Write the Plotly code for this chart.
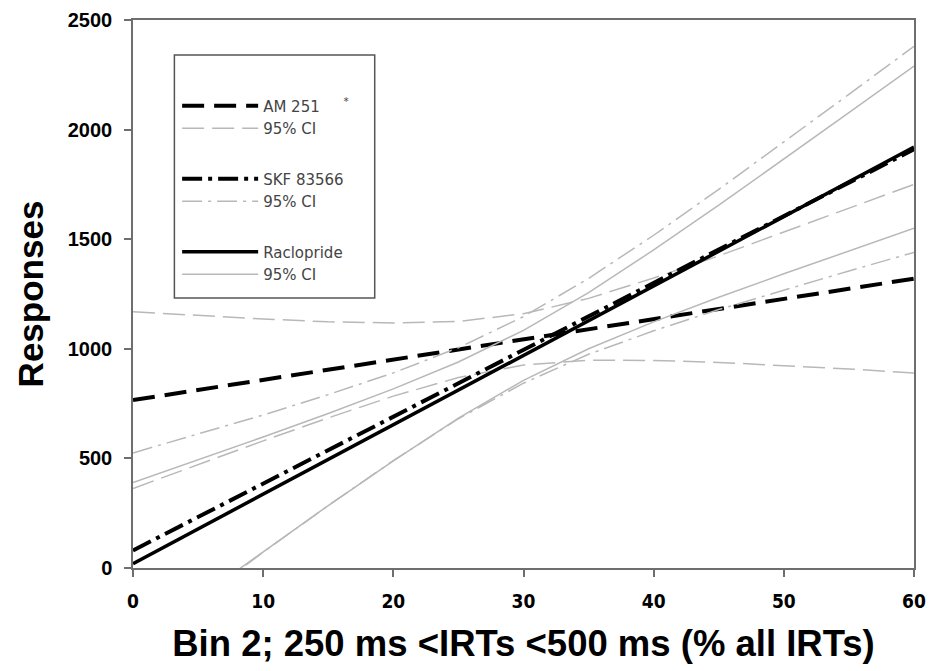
import plotly.graph_objects as go

# x positions (% of all IRTs in bin 2)
x_pct = [0, 5, 10, 15, 20, 25, 30, 35, 40, 45, 50, 55, 60]

# AM 251 regression line and 95% CI
am_fit = [766, 812, 858, 904, 951, 997, 1043, 1089, 1135, 1181, 1228, 1274, 1320]
am_hi = [1169, 1152, 1136, 1123, 1118, 1125, 1160, 1230, 1323, 1424, 1532, 1640, 1750]
am_lo = [363, 472, 580, 685, 784, 869, 926, 948, 947, 938, 924, 908, 890]

# SKF 83566 regression line and 95% CI
skf_fit = [80, 233, 385, 538, 690, 843, 995, 1148, 1300, 1453, 1605, 1758, 1910]
skf_hi = [525, 611, 698, 791, 890, 1005, 1147, 1321, 1518, 1727, 1942, 2161, 2380]
skf_lo = [-365, -145, 72, 285, 490, 681, 843, 975, 1082, 1179, 1268, 1355, 1440]

# Raclopride regression line and 95% CI
rac_fit = [20, 178, 337, 495, 653, 812, 970, 1128, 1287, 1445, 1603, 1762, 1920]
rac_hi = [390, 493, 598, 705, 817, 940, 1084, 1256, 1451, 1655, 1864, 2077, 2290]
rac_lo = [-350, -137, 76, 285, 489, 684, 856, 1000, 1123, 1235, 1342, 1447, 1550]

x_ticks = [0, 10, 20, 30, 40, 50, 60]
y_ticks = [0, 500, 1000, 1500, 2000, 2500]

CI_COL = "#b8b8b8"
fig = go.Figure()

def add(y, name, group, color, width, dash, show):
    fig.add_trace(go.Scatter(
        x=x_pct, y=y, mode="lines", name=name, legendgroup=group,
        showlegend=show, line=dict(color=color, width=width, dash=dash),
        hoverinfo="skip"))

add(am_fit, "AM 251&nbsp;&nbsp;&nbsp;&nbsp;&nbsp;<sup>*</sup>", "am", "black", 4, "22px,10px", True)
add(am_lo, "95% CI", "am", CI_COL, 1.5, "22px,8px", True)
add(am_hi, "95% CI", "am", CI_COL, 1.5, "22px,8px", False)

add(skf_fit, "SKF 83566", "skf", "black", 4, "20px,6px,4px,6px", True)
add(skf_lo, "95% CI", "skf", CI_COL, 1.5, "20px,6px,3px,6px", True)
add(skf_hi, "95% CI", "skf", CI_COL, 1.5, "20px,6px,3px,6px", False)

add(rac_fit, "Raclopride", "rac", "black", 3.5, "solid", True)
add(rac_lo, "95% CI", "rac", CI_COL, 1.5, "solid", True)
add(rac_hi, "95% CI", "rac", CI_COL, 1.5, "solid", False)

axis_common = dict(
    showgrid=False, zeroline=False, showline=True, linecolor="#6e6e6e",
    linewidth=1.5, mirror=True, ticks="outside", ticklen=7, tickwidth=1.5,
    tickcolor="#6e6e6e",
)

fig.update_layout(
    width=935, height=671,
    margin=dict(l=133, r=9, t=20, b=103),
    paper_bgcolor="white", plot_bgcolor="white",
    xaxis=dict(
        range=[0, 60], tickvals=x_ticks, ticktext=[str(v) for v in x_ticks],
        tickfont=dict(family="Liberation Sans Narrow, Arial Narrow, DejaVu Sans Condensed, sans-serif",
                      size=19, color="black", weight="bold"),
        ticklabelstandoff=8, ticklabeloverflow="allow",
        title=dict(text="<b>Bin 2; 250 ms &lt;IRTs &lt;500 ms (% all IRTs)</b>",
                   font=dict(family="Liberation Sans, Arial, sans-serif", size=36.5, color="black"),
                   standoff=20),
        **axis_common,
    ),
    yaxis=dict(
        range=[0, 2500], tickvals=y_ticks, ticktext=[str(v) for v in y_ticks],
        tickfont=dict(family="Liberation Sans, Arial, sans-serif", size=20,
                      color="black", weight="bold"),
        ticklabelstandoff=8,
        title=dict(text="<b>Responses</b>",
                   font=dict(family="Liberation Sans, Arial, sans-serif", size=35, color="black"),
                   standoff=14),
        **axis_common,
    ),
    shapes=[dict(
        type="rect", xref="paper", yref="paper",
        x0=0.053, x1=0.3095, y0=0.4927, y1=0.9361,
        line=dict(color="#555555", width=1.5), fillcolor="white", layer="above",
    )],
    legend=dict(
        x=0.0565, y=0.873, xanchor="left", yanchor="top",
        bgcolor="rgba(0,0,0,0)", borderwidth=0,
        font=dict(family="DejaVu Sans, sans-serif", size=15, color="#444444"),
        tracegroupgap=28, traceorder="grouped", itemwidth=76,
    ),
)

fig.write_html("out.html", post_script="document.body.style.margin='0';",
               config={"displayModeBar": False})
